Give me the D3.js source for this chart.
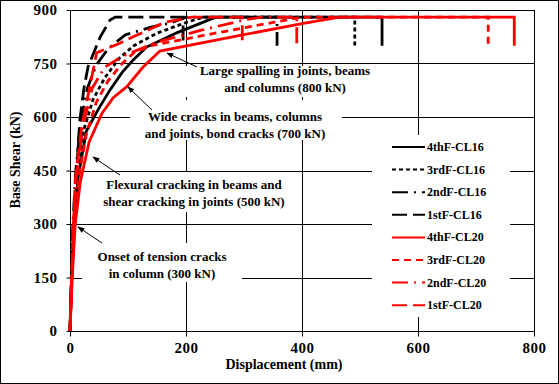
<!DOCTYPE html>
<html>
<head>
<meta charset="utf-8">
<script src="https://cdn.jsdelivr.net/npm/d3@7"></script>
<style>
body { margin: 0; background: #fff; }
svg { display: block; font-family: "Liberation Serif", "Times New Roman", serif; font-weight: bold; }
</style>
</head>
<body>
<svg id="chart" width="559" height="384"></svg>
<script>
// axis ticks
const xTicks = [0, 200, 400, 600, 800];
const yTicks = [0, 150, 300, 450, 600, 750, 900];

// displacement (mm) / base shear (kN)
const disp4thCL16 = [0, 3, 7, 14, 28, 50, 69, 90, 109, 132, 184, 247, 255, 538, 538];
const shear4thCL16 = [0, 150, 300, 430, 560, 625, 676, 725, 760, 796, 836, 877, 880, 880, 800];
const disp3rdCL16 = [0, 3, 6, 12, 23, 40, 60, 85, 110, 150, 200, 230, 491, 491];
const shear3rdCL16 = [0, 150, 300, 430, 560, 650, 710, 765, 800, 835, 865, 880, 880, 800];
const disp2ndCL16 = [0, 2, 5, 10, 18, 30, 45, 65, 95, 140, 172, 200, 357, 357];
const shear2ndCL16 = [0, 150, 300, 450, 580, 680, 745, 790, 830, 852, 863, 880, 880, 800];
const disp1stCL16 = [0, 4, 9, 14, 17, 24, 31, 52, 69, 78, 195, 195];
const shear1stCL16 = [0, 200, 367, 520, 591, 680, 740, 824, 872, 880, 880, 800];

const disp4thCL20 = [0, 4, 9, 18, 33, 55, 75, 98, 126, 155, 300, 400, 465, 766, 766];
const shear4thCL20 = [0, 150, 300, 420, 530, 610, 655, 685, 740, 785, 831, 862, 880, 880, 800];
const disp3rdCL20 = [0, 3, 8, 15, 28, 45, 65, 90, 110, 140, 250, 350, 400, 721, 721];
const shear3rdCL20 = [0, 150, 300, 430, 550, 640, 700, 750, 780, 800, 835, 865, 880, 880, 800];
const disp2ndCL20 = [0, 3, 6, 11, 22, 38, 60, 90, 150, 228, 300, 330, 391, 391];
const shear2ndCL20 = [0, 150, 300, 430, 570, 680, 740, 770, 810, 844, 872, 880, 880, 800];
const disp1stCL20 = [0, 3, 6, 9, 20, 34, 46, 86, 108, 164, 210, 297, 297];
const shear1stCL20 = [0, 150, 300, 423, 572, 684, 780, 807, 824, 866, 880, 880, 800];

const seriesNames = ['4thF-CL16', '3rdF-CL16', '2ndF-CL16', '1stF-CL16',
                     '4thF-CL20', '3rdF-CL20', '2ndF-CL20', '1stF-CL20'];

const notes = [
    { lines: ['Large spalling in joints, beams', 'and columns (800 kN)'], at: [285, 75], box: [183, 66, 205, 31], from: [197, 67], to: [167, 53] },
    { lines: ['Wide cracks in beams, columns', 'and joints, bond cracks (700 kN)'], at: [235, 121], box: [130, 100, 212, 40], from: [152, 110], to: [128, 87] },
    { lines: ['Flexural cracking in beams and', 'shear cracking in joints (500 kN)'], at: [194, 189], box: [100, 172, 190, 40], from: [120, 175], to: [93, 157] },
    { lines: ['Onset of tension cracks', 'in column (300 kN)'], at: [162, 261], box: [82, 243, 160, 39], from: [102, 243], to: [78, 227] }
];

const series = [
    [disp4thCL16, shear4thCL16], [disp3rdCL16, shear3rdCL16], [disp2ndCL16, shear2ndCL16], [disp1stCL16, shear1stCL16],
    [disp4thCL20, shear4thCL20], [disp3rdCL20, shear3rdCL20], [disp2ndCL20, shear2ndCL20], [disp1stCL20, shear1stCL20]
].map(([xs, ys], i) => ({ name: seriesNames[i], values: xs.map((v, j) => [v, ys[j]]) }));

const colors = ['#000', '#000', '#000', '#000', '#ff0000', '#ff0000', '#ff0000', '#ff0000'];
const dashes = [null, '4,3', '16,6,2,6', '15,6', null, '7,5', '16,6,2,6', '15,6'];

const svg = d3.select('#chart');
const W = 559, H = 384;
const x = d3.scaleLinear().domain([0, 800]).range([70, 534]);
const y = d3.scaleLinear().domain([0, 900]).range([331, 10]);

svg.append('rect').attr('x', 0.5).attr('y', 0.5).attr('width', W - 1).attr('height', H - 1)
    .attr('fill', '#fff').attr('stroke', '#000');

// grid
svg.append('g').selectAll('line').data(yTicks.slice(1, -1)).enter().append('line')
    .attr('x1', x(0)).attr('x2', x(800)).attr('y1', d => Math.round(y(d)) + 0.5).attr('y2', d => Math.round(y(d)) + 0.5)
    .attr('stroke', '#000');
svg.append('g').selectAll('line').data(xTicks.slice(1, -1)).enter().append('line')
    .attr('y1', y(0)).attr('y2', y(900)).attr('x1', d => Math.round(x(d)) + 0.5).attr('x2', d => Math.round(x(d)) + 0.5)
    .attr('stroke', '#000');

// annotation boxes cover the grid
svg.append('g').selectAll('rect').data(notes).enter().append('rect')
    .attr('x', d => d.box[0]).attr('y', d => d.box[1]).attr('width', d => d.box[2]).attr('height', d => d.box[3])
    .attr('fill', '#fff');
// legend box
svg.append('rect').attr('x', 372).attr('y', 135).attr('width', 138).attr('height', 182).attr('fill', '#fff');

svg.append('rect').attr('x', x(0) + 0.5).attr('y', y(900) + 0.5).attr('width', x(800) - x(0)).attr('height', y(0) - y(900))
    .attr('fill', 'none').attr('stroke', '#000');

// axes
const yAxis = svg.append('g').attr('transform', `translate(${x(0) + 0.5},0)`)
    .call(d3.axisLeft(y).tickValues(yTicks).tickSize(4).tickPadding(9));
const xAxis = svg.append('g').attr('transform', `translate(0,${y(0) + 0.5})`)
    .call(d3.axisBottom(x).tickValues(xTicks).tickSize(5).tickPadding(6));
[yAxis, xAxis].forEach(a => {
    a.select('.domain').remove();
    a.selectAll('line').attr('stroke', '#000');
    a.selectAll('text').attr('font-family', 'Liberation Serif').attr('font-weight', 'bold').attr('fill', '#000')
        .attr('font-size', 15).attr('letter-spacing', 0.5);
});

svg.append('text').attr('transform', 'translate(20,160) rotate(-90)').attr('text-anchor', 'middle')
    .attr('font-size', 14).text('Base Shear (kN)');
svg.append('text').attr('x', 284).attr('y', 369).attr('text-anchor', 'middle')
    .attr('font-size', 14).text('Displacement (mm)');

// curves
const line = d3.line().x(d => x(d[0])).y(d => y(d[1]));
svg.append('g').selectAll('path').data(series).enter().append('path')
    .attr('d', d => line(d.values))
    .attr('fill', 'none')
    .attr('stroke', (d, i) => colors[i])
    .attr('stroke-width', 2.8)
    .attr('stroke-dasharray', (d, i) => dashes[i]);

// annotations
svg.append('defs').append('marker').attr('id', 'arr').attr('viewBox', '0 0 10 10')
    .attr('refX', 9).attr('refY', 5).attr('markerWidth', 7).attr('markerHeight', 7).attr('orient', 'auto')
    .append('path').attr('d', 'M0,1L10,5L0,9z').attr('fill', '#000');
const ng = svg.append('g');
notes.forEach(n => {
    const t = ng.append('text').attr('text-anchor', 'middle').attr('font-size', 13);
    n.lines.forEach((l, i) => t.append('tspan').attr('x', n.at[0]).attr('y', n.at[1] + i * 17).text(l));
    ng.append('line').attr('x1', n.from[0]).attr('y1', n.from[1]).attr('x2', n.to[0]).attr('y2', n.to[1])
        .attr('stroke', '#000').attr('stroke-width', 1).attr('marker-end', 'url(#arr)');
});

// legend
const lg = svg.append('g').selectAll('g').data(series).enter().append('g')
    .attr('transform', (d, i) => `translate(392,${147 + i * 22.6})`);
lg.append('line').attr('x1', 0).attr('x2', 33)
    .attr('stroke', (d, i) => colors[i]).attr('stroke-width', 2)
    .attr('stroke-dasharray', (d, i) => dashes[i]);
lg.append('text').attr('x', 35).attr('y', 4).attr('font-size', 12).text(d => d.name);
</script>
</body>
</html>
